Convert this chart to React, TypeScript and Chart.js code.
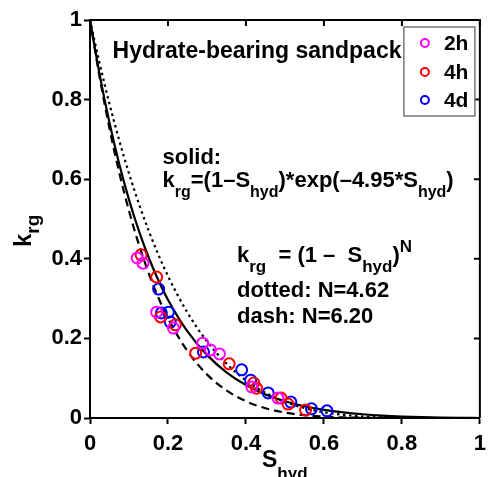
import React, { useEffect, useRef } from "react";
import { Chart, registerables } from "chart.js";

Chart.register(...registerables);

// ---- data ----
const X_TICKS = [0, 0.2, 0.4, 0.6, 0.8, 1];
const Y_TICKS = [0, 0.2, 0.4, 0.6, 0.8, 1];
const X_TICK_LABELS = ["0", "0.2", "0.4", "0.6", "0.8", "1"];
const Y_TICK_LABELS = ["0", "0.2", "0.4", "0.6", "0.8", "1"];

const CURVE_S = [0, 0.025, 0.05, 0.075, 0.1, 0.125, 0.15, 0.175, 0.2, 0.25, 0.3, 0.35, 0.4, 0.45, 0.5, 0.55, 0.6, 0.65, 0.7, 0.75, 0.8, 0.85, 0.9, 0.95, 1];
const SOLID_KRG = [1, 0.8615, 0.7417, 0.6381, 0.5486, 0.4713, 0.4045, 0.3469, 0.2973, 0.2176, 0.1586, 0.1149, 0.0828, 0.0593, 0.0421, 0.0296, 0.0205, 0.014, 0.0094, 0.0061, 0.0038, 0.0022, 0.0012, 0.0005, 0];
const DOTTED_KRG = [1, 0.8896, 0.789, 0.6975, 0.6146, 0.5396, 0.472, 0.4111, 0.3567, 0.2647, 0.1925, 0.1367, 0.0944, 0.0632, 0.0407, 0.025, 0.0145, 0.0078, 0.0038, 0.0017, 0.0006, 0.0002, 0, 0, 0];
const DASH_KRG = [1, 0.8547, 0.7276, 0.6167, 0.5204, 0.437, 0.3651, 0.3034, 0.2507, 0.1681, 0.1096, 0.0692, 0.0421, 0.0246, 0.0136, 0.0071, 0.0034, 0.0015, 0.0006, 0.0002, 0.0001, 0, 0, 0, 0];

// measurements
const S_2H = [0.121, 0.136, 0.171, 0.214, 0.289, 0.309, 0.332, 0.415, 0.482];
const K_2H = [0.402, 0.389, 0.266, 0.226, 0.188, 0.171, 0.161, 0.078, 0.05];
const S_4H = [0.131, 0.171, 0.181, 0.219, 0.271, 0.357, 0.42, 0.427, 0.49, 0.508, 0.553];
const K_4H = [0.41, 0.354, 0.254, 0.234, 0.163, 0.136, 0.088, 0.075, 0.05, 0.035, 0.02];
const S_4D = [0.176, 0.183, 0.201, 0.206, 0.291, 0.389, 0.412, 0.457, 0.515, 0.568, 0.608];
const K_4D = [0.324, 0.264, 0.266, 0.241, 0.166, 0.121, 0.095, 0.063, 0.04, 0.023, 0.018];

const SERIES_NAMES = ["2h", "4h", "4d"];

type Seg = { t: string; k?: "sub" | "sup" };
const TITLE_TEXT: Seg[] = [{ t: "Hydrate-bearing sandpack" }];
const SOLID_LINE1: Seg[] = [{ t: "solid:" }];
const SOLID_LINE2: Seg[] = [
  { t: "k" }, { t: "rg", k: "sub" }, { t: "=(1–S" }, { t: "hyd", k: "sub" },
  { t: ")*exp(–4.95*S" }, { t: "hyd", k: "sub" }, { t: ")" },
];
const POWER_LINE1: Seg[] = [
  { t: "k" }, { t: "rg", k: "sub" }, { t: "  = (1 –  S" }, { t: "hyd", k: "sub" },
  { t: ")" }, { t: "N", k: "sup" },
];
const POWER_LINE2: Seg[] = [{ t: "dotted: N=4.62" }];
const POWER_LINE3: Seg[] = [{ t: "dash: N=6.20" }];
const X_TITLE: Seg[] = [{ t: "S" }, { t: "hyd", k: "sub" }];
const Y_TITLE: Seg[] = [{ t: "k" }, { t: "rg", k: "sub" }];

const FAMILY = '"Liberation Sans", Arial, Helvetica, sans-serif';

function toPts(xs: number[], ys: number[]) {
  return xs.map((x, i) => ({ x, y: ys[i] }));
}

function drawRich(ctx: CanvasRenderingContext2D, segs: Seg[], x: number, y: number, size: number, subSize: number, subDy: number, supDy: number) {
  let cx = x;
  for (const s of segs) {
    const fs = s.k ? subSize : size;
    ctx.font = `bold ${fs}px ${FAMILY}`;
    const dy = s.k === "sub" ? subDy : s.k === "sup" ? -supDy : 0;
    ctx.fillText(s.t, cx, y + dy);
    cx += ctx.measureText(s.t).width;
  }
}

const decorPlugin = {
  id: "decor",
  afterDraw(chart: any) {
    const ctx: CanvasRenderingContext2D = chart.ctx;
    const { left, right, top, bottom } = chart.chartArea;
    const xs = chart.scales.x;
    const ys = chart.scales.y;
    ctx.save();
    // top & right frame with inward ticks
    ctx.strokeStyle = "#000";
    ctx.lineWidth = 2;
    ctx.beginPath();
    ctx.moveTo(left, top);
    ctx.lineTo(right, top);
    ctx.lineTo(right, bottom);
    ctx.stroke();
    ctx.beginPath();
    for (const v of X_TICKS) {
      const px = xs.getPixelForValue(v);
      ctx.moveTo(px, top);
      ctx.lineTo(px, top + 6);
    }
    for (const v of Y_TICKS) {
      const py = ys.getPixelForValue(v);
      ctx.moveTo(right, py);
      ctx.lineTo(right - 6, py);
    }
    ctx.stroke();

    // annotations
    ctx.fillStyle = "#000";
    ctx.textBaseline = "alphabetic";
    ctx.textAlign = "left";
    const P = (sx: number, ky: number) => [xs.getPixelForValue(sx), ys.getPixelForValue(ky)];
    let p = P(0.058, 0.905);
    drawRich(ctx, TITLE_TEXT, p[0], p[1], 23, 16, 10, 9);
    p = P(0.186, 0.638);
    drawRich(ctx, SOLID_LINE1, p[0], p[1], 22, 16, 10, 9);
    p = P(0.186, 0.58);
    drawRich(ctx, SOLID_LINE2, p[0], p[1], 22, 16, 10, 9);
    p = P(0.377, 0.392);
    drawRich(ctx, POWER_LINE1, p[0], p[1], 22, 17, 10, 10);
    p = P(0.377, 0.304);
    drawRich(ctx, POWER_LINE2, p[0], p[1], 22, 16, 10, 9);
    p = P(0.377, 0.239);
    drawRich(ctx, POWER_LINE3, p[0], p[1], 22, 16, 10, 9);

    // legend box
    const bx = right - 76, by = top + 7, bw = 71, bh = 89;
    ctx.fillStyle = "#fff";
    ctx.fillRect(bx, by, bw, bh);
    ctx.strokeStyle = "#777";
    ctx.lineWidth = 1.5;
    ctx.strokeRect(bx, by, bw, bh);
    const rows = [16, 45, 73];
    SERIES_NAMES.forEach((name, i) => {
      const ds = chart.data.datasets[i];
      const cy = by + rows[i];
      ctx.beginPath();
      ctx.strokeStyle = ds.borderColor;
      ctx.lineWidth = 2;
      ctx.arc(bx + 21, cy, 4, 0, Math.PI * 2);
      ctx.stroke();
      ctx.fillStyle = "#000";
      ctx.font = `bold 21px ${FAMILY}`;
      ctx.textBaseline = "middle";
      ctx.fillText(name, bx + 40, cy + 1);
    });
    ctx.textBaseline = "alphabetic";

    // axis titles
    ctx.fillStyle = "#000";
    drawRich(ctx, X_TITLE, left + 172, 467, 23, 17, 12, 0);
    ctx.save();
    ctx.translate(31, 247);
    ctx.rotate(-Math.PI / 2);
    drawRich(ctx, Y_TITLE, 0, 0, 24, 19, 8, 0);
    ctx.restore();

    ctx.restore();
  },
};

export default function App() {
  const ref = useRef<HTMLCanvasElement>(null);
  useEffect(() => {
    if (!ref.current) return;
    const curve = (data: number[], dash: number[]) => ({
      type: "line" as const,
      data: toPts(CURVE_S, data),
      borderColor: "#000",
      borderWidth: 2.2,
      borderDash: dash,
      pointRadius: 0,
      showLine: true,
      fill: false,
      cubicInterpolationMode: "monotone" as const,
    });
    const pts = (xs: number[], ys: number[], color: string, label: string) => ({
      type: "scatter" as const,
      label,
      data: toPts(xs, ys),
      borderColor: color,
      backgroundColor: "rgba(0,0,0,0)",
      borderWidth: 2,
      pointRadius: 5.5,
      pointStyle: "circle",
    });
    const chart = new Chart(ref.current, {
      type: "scatter",
      data: {
        datasets: [
          pts(S_2H, K_2H, "#ff00ff", SERIES_NAMES[0]),
          pts(S_4H, K_4H, "#ff0000", SERIES_NAMES[1]),
          pts(S_4D, K_4D, "#0000ff", SERIES_NAMES[2]),
          curve(SOLID_KRG, []),
          curve(DOTTED_KRG, [2.5, 3.5]),
          curve(DASH_KRG, [8, 5]),
        ] as any,
      },
      options: {
        animation: false,
        responsive: false,
        devicePixelRatio: 1,
        layout: { padding: { top: 20, right: 5, left: 0, bottom: 0 } },
        plugins: { legend: { display: false }, tooltip: { enabled: false } },
        scales: {
          x: {
            type: "linear",
            min: 0,
            max: 1,
            afterFit: (s: any) => { s.height = 59; },
            afterBuildTicks: (s: any) => { s.ticks = X_TICKS.map((v) => ({ value: v })); },
            ticks: {
              color: "#000",
              font: { family: FAMILY, size: 22, weight: "bold" },
              padding: 7,
              maxRotation: 0,
              callback: (v: any) => X_TICK_LABELS[X_TICKS.indexOf(Number(v))] ?? "",
            },
            grid: { drawOnChartArea: false, drawTicks: true, tickLength: 6, tickColor: "#000", tickWidth: 2 },
            border: { display: true, color: "#000", width: 2 },
          },
          y: {
            type: "linear",
            min: 0,
            max: 1,
            afterFit: (s: any) => { s.width = 90; },
            afterBuildTicks: (s: any) => { s.ticks = Y_TICKS.map((v) => ({ value: v })); },
            ticks: {
              color: "#000",
              font: { family: FAMILY, size: 22, weight: "bold" },
              padding: 2,
              callback: (v: any) => Y_TICK_LABELS[Y_TICKS.indexOf(Number(v))] ?? "",
            },
            grid: { drawOnChartArea: false, drawTicks: true, tickLength: 6, tickColor: "#000", tickWidth: 2 },
            border: { display: true, color: "#000", width: 2 },
          },
        },
      } as any,
      plugins: [decorPlugin],
    });
    return () => chart.destroy();
  }, []);
  return (
    <div style={{ position: "fixed", left: 0, top: 0, width: 493, height: 477, background: "#fff" }}>
      <canvas ref={ref} width={493} height={477} />
    </div>
  );
}
